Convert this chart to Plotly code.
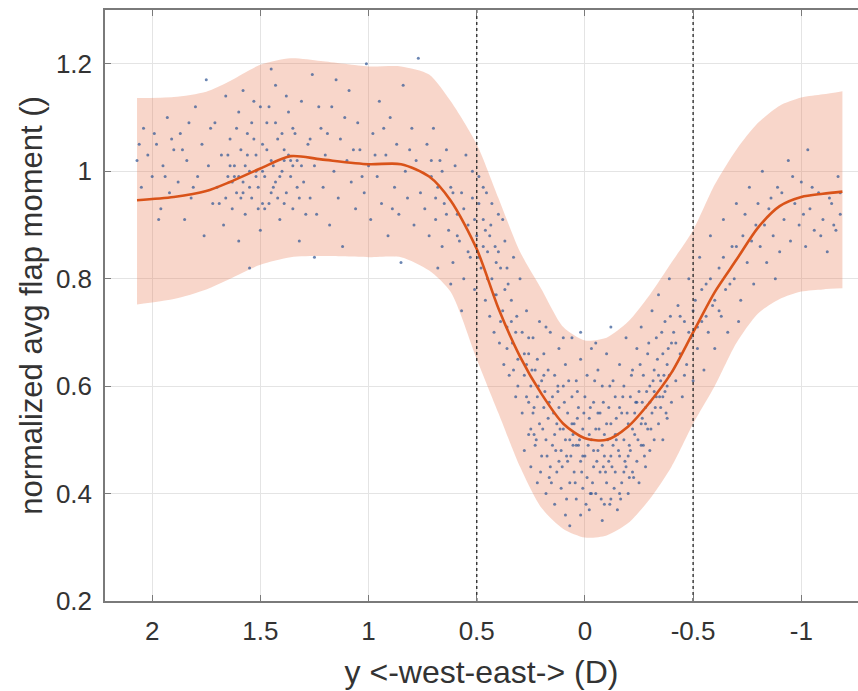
import plotly.graph_objects as go

# ---- curve / band data (x in D, reversed axis) ----
band_x = [2.07, 1.9, 1.75, 1.64, 1.5, 1.36, 1.22, 1.0, 0.85, 0.72, 0.62, 0.5, 0.4, 0.3, 0.2,
          0.1, 0.0, -0.1, -0.2, -0.3, -0.4, -0.5, -0.6, -0.7, -0.8, -0.9, -1.0, -1.1, -1.19]
mean_y = [0.946, 0.952, 0.963, 0.98, 1.005, 1.028, 1.022, 1.013, 1.013, 0.99, 0.945, 0.855, 0.745,
          0.655, 0.585, 0.53, 0.503, 0.50, 0.525, 0.57, 0.625, 0.70, 0.775, 0.835, 0.895, 0.935,
          0.952, 0.958, 0.962]
upper_y = [1.136, 1.138, 1.148, 1.168, 1.198, 1.21, 1.205, 1.195, 1.195, 1.18, 1.13, 1.05, 0.95,
           0.85, 0.78, 0.71, 0.685, 0.69, 0.72, 0.77, 0.83, 0.89, 0.975, 1.04, 1.09, 1.122,
           1.137, 1.143, 1.149]
lower_y = [0.752, 0.762, 0.78, 0.80, 0.826, 0.84, 0.842, 0.84, 0.84, 0.815, 0.775, 0.65, 0.55,
           0.45, 0.373, 0.334, 0.318, 0.322, 0.345, 0.39, 0.45, 0.53, 0.60, 0.68, 0.735, 0.762,
           0.776, 0.780, 0.782]

# ---- scatter samples ----
west_x = [2.07, 2.05, 2.04, 2.02, 2.0, 1.98, 1.96, 1.95, 1.93, 1.92, 1.90, 1.88, 1.87, 1.85, 1.84,
          1.82, 1.80, 1.79, 1.77, 1.76, 1.74, 1.72, 1.71, 1.70, 1.68, 1.67, 1.66, 1.65, 1.64, 1.63,
          1.62, 1.61, 1.60, 1.59, 1.58, 1.57, 1.56, 1.55, 1.54, 1.53, 1.52, 1.51, 1.50, 1.49, 1.48,
          1.47, 1.46, 1.45, 1.44, 1.43, 1.42, 1.41, 1.40, 1.39, 1.38, 1.37, 1.36, 1.35, 1.34, 1.33,
          1.32, 1.31, 1.30, 1.28, 1.27, 1.26, 1.25, 1.24, 1.22, 1.21, 1.20, 1.18, 1.17, 1.16, 1.14,
          1.13, 1.12, 1.10, 1.09, 1.08, 1.06, 1.05, 1.04, 1.02, 1.01, 1.00, 0.99, 0.98, 0.96, 0.95,
          0.94, 0.92, 0.91, 0.90, 0.88, 0.87, 0.86, 0.84, 0.83, 0.82, 0.80, 0.79, 0.78, 0.77, 0.76,
          1.55, 1.75, 1.25, 0.85, 1.60, 1.45, 1.15, 1.58, 1.52, 1.49, 1.43, 1.39, 1.62, 1.66, 1.35]
west_y = [1.02, 0.97, 1.08, 1.03, 0.99, 1.05, 0.93, 1.01, 1.10, 0.96, 1.04, 0.98, 1.07, 0.91, 1.02,
          0.95, 1.12, 0.99, 1.05, 0.88, 1.01, 0.94, 1.09, 0.97, 1.03, 0.90, 1.14, 0.99, 1.06, 0.93,
          1.01, 0.96, 1.11, 1.04, 0.98, 0.92, 1.07, 1.00, 0.95, 1.13, 1.03, 0.97, 0.89, 1.05, 0.99,
          1.09, 0.94, 1.02, 0.97, 1.16, 1.06, 0.91, 1.00, 1.04, 0.96, 1.11, 0.99, 0.93, 1.07, 1.02,
          0.87, 1.13, 0.98, 1.05, 0.95, 1.18, 1.01, 0.92, 1.08, 0.97, 1.03, 0.90, 1.12, 1.00, 0.95,
          1.06, 0.86, 1.02, 1.15, 0.98, 0.93, 1.09, 1.04, 0.96, 1.20, 1.01, 0.91, 1.07, 0.99, 1.13,
          0.94, 1.03, 0.88, 1.10, 0.97, 1.05, 0.92, 1.16, 1.00, 0.95, 1.08, 0.90, 1.02, 1.21, 0.96,
          0.82, 1.17, 0.84, 0.83, 0.87, 1.19, 1.17, 0.96, 1.00, 0.94, 0.98, 1.02, 0.99, 0.95, 1.01]
west_extra = [(1.65, 1.03), (1.63, 0.98), (1.61, 1.08), (1.59, 0.95), (1.57, 1.01), (1.55, 0.97),
              (1.53, 1.06), (1.51, 0.93), (1.49, 1.00), (1.47, 1.04), (1.45, 0.96), (1.43, 1.09),
              (1.41, 0.99), (1.39, 0.94), (1.37, 1.03), (1.35, 1.08), (1.33, 0.97), (1.31, 1.01),
              (1.29, 0.92), (1.27, 1.06), (1.60, 0.99), (1.56, 1.03), (1.52, 0.99), (1.48, 0.93),
              (1.44, 1.01), (1.40, 1.07), (1.36, 1.02), (1.32, 0.95), (1.64, 1.01), (1.54, 1.09),
              (1.46, 1.12), (1.42, 0.95), (1.58, 1.15), (1.50, 1.12), (1.38, 1.14), (1.23, 1.12),
              (1.19, 1.07), (1.11, 1.10), (1.07, 1.04), (1.03, 0.99), (0.97, 1.03), (0.93, 1.08),
              (0.89, 0.93), (0.81, 1.04), (1.99, 1.07), (1.94, 0.99), (1.86, 1.04), (1.81, 0.97),
              (1.73, 1.08), (1.69, 0.94), (2.06, 1.05), (1.97, 0.91), (1.91, 1.06), (1.83, 1.09)]

drop_x = [0.74, 0.73, 0.72, 0.71, 0.70, 0.69, 0.68, 0.67, 0.66, 0.65, 0.64, 0.63, 0.62, 0.61, 0.60,
          0.59, 0.58, 0.57, 0.56, 0.55, 0.54, 0.53, 0.52, 0.51, 0.50, 0.49, 0.48, 0.47, 0.46, 0.455,
          0.45, 0.44, 0.435, 0.43, 0.42, 0.415, 0.41, 0.40, 0.395, 0.39, 0.38, 0.375, 0.37, 0.36,
          0.355, 0.35, 0.34, 0.335, 0.33, 0.32, 0.315, 0.31, 0.30, 0.52, 0.47, 0.62, 0.57, 0.43,
          0.38, 0.68]
drop_y = [0.93, 1.05, 0.88, 0.99, 1.08, 0.91, 0.97, 1.02, 0.86, 0.94, 1.04, 0.89, 0.97, 0.83, 1.01,
          0.92, 0.87, 0.96, 0.80, 1.03, 0.90, 0.84, 0.95, 0.78, 0.88, 0.99, 0.82, 0.91, 0.76, 0.96,
          0.85, 0.73, 0.90, 0.80, 0.70, 0.86, 0.77, 0.92, 0.68, 0.82, 0.74, 0.64, 0.87, 0.71, 0.79,
          0.62, 0.76, 0.68, 0.84, 0.58, 0.73, 0.65, 0.80, 1.00, 0.97, 0.79, 0.74, 0.94, 0.91, 0.82]
drop_extra = [(0.71, 1.02), (0.69, 0.95), (0.66, 1.00), (0.64, 0.92), (0.61, 0.96), (0.59, 0.88),
              (0.56, 0.93), (0.54, 0.85), (0.51, 0.91), (0.49, 0.84), (0.47, 0.86), (0.45, 0.80),
              (0.44, 0.88), (0.42, 0.77), (0.41, 0.83), (0.39, 0.72), (0.37, 0.78), (0.36, 0.67),
              (0.34, 0.72), (0.33, 0.63), (0.32, 0.70), (0.31, 0.60), (0.49, 0.94), (0.46, 0.89),
              (0.40, 0.85), (0.36, 0.82)]

valley_x = [0.29, 0.29, 0.28, 0.28, 0.27, 0.27, 0.26, 0.26, 0.25, 0.25, 0.24, 0.24, 0.23, 0.23, 0.22,
            0.22, 0.21, 0.21, 0.20, 0.20, 0.19, 0.19, 0.18, 0.18, 0.17, 0.17, 0.16, 0.16, 0.15, 0.15,
            0.14, 0.14, 0.13, 0.13, 0.12, 0.12, 0.11, 0.11, 0.10, 0.10, 0.09, 0.09, 0.08, 0.08, 0.07,
            0.07, 0.06, 0.06, 0.05, 0.05, 0.04, 0.04, 0.03, 0.03, 0.02, 0.02, 0.01, 0.01, 0.00, 0.00,
            -0.01, -0.01, -0.02, -0.02, -0.03, -0.03, -0.04, -0.04, -0.05, -0.05, -0.06, -0.06,
            -0.07, -0.07, -0.08, -0.08, -0.09, -0.09, -0.10, -0.10, -0.11, -0.11, -0.12, -0.12,
            -0.13, -0.13, -0.14, -0.14, -0.15, -0.15, -0.16, -0.16, -0.17, -0.17, -0.18, -0.18,
            -0.19, -0.19, -0.20, -0.20, -0.21, -0.21, -0.22, -0.22, -0.23, -0.23, -0.24, -0.24,
            -0.25, -0.25, -0.26, -0.26, -0.27, -0.27, -0.28, -0.28, -0.29, -0.29, -0.30, -0.30,
            -0.31, -0.31, -0.32, -0.32, -0.33, -0.33, -0.34, -0.34, -0.35, -0.35, -0.36, -0.36,
            -0.37, -0.37, -0.38, -0.38, -0.39, -0.39, -0.40, -0.40, 0.18, 0.10, 0.02, -0.05, -0.12,
            0.235, 0.165, 0.085, 0.035, -0.025, -0.085, -0.145, -0.205, -0.265, 0.125, 0.055, -0.115]
valley_y = [0.70, 0.55, 0.62, 0.48, 0.74, 0.58, 0.66, 0.51, 0.60, 0.45, 0.69, 0.55, 0.63, 0.49, 0.58,
            0.42, 0.72, 0.53, 0.61, 0.47, 0.66, 0.56, 0.50, 0.40, 0.63, 0.54, 0.45, 0.70, 0.58, 0.49,
            0.38, 0.62, 0.53, 0.44, 0.67, 0.56, 0.48, 0.41, 0.60, 0.52, 0.36, 0.64, 0.55, 0.46, 0.50,
            0.42, 0.69, 0.58, 0.53, 0.44, 0.61, 0.39, 0.49, 0.56, 0.46, 0.65, 0.52, 0.41, 0.58, 0.47,
            0.62, 0.43, 0.54, 0.37, 0.50, 0.67, 0.45, 0.57, 0.40, 0.52, 0.63, 0.48, 0.44, 0.55, 0.35,
            0.60, 0.47, 0.51, 0.42, 0.66, 0.56, 0.46, 0.39, 0.53, 0.61, 0.49, 0.44, 0.58, 0.37, 0.51,
            0.64, 0.47, 0.55, 0.42, 0.60, 0.50, 0.45, 0.69, 0.53, 0.40, 0.58, 0.48, 0.63, 0.44, 0.55,
            0.51, 0.67, 0.46, 0.59, 0.42, 0.53, 0.71, 0.49, 0.62, 0.56, 0.45, 0.66, 0.52, 0.60, 0.48,
            0.74, 0.55, 0.63, 0.50, 0.58, 0.69, 0.53, 0.77, 0.61, 0.56, 0.66, 0.50, 0.72, 0.59, 0.64,
            0.54, 0.80, 0.62, 0.68, 0.57, 0.71, 0.69, 0.70, 0.68, 0.71, 0.51, 0.43, 0.47, 0.54, 0.40,
            0.45, 0.50, 0.43, 0.57, 0.59, 0.49, 0.38]
valley_extra = [(0.27, 0.64), (0.26, 0.57), (0.25, 0.52), (0.245, 0.63), (0.235, 0.56), (0.225, 0.50),
                (0.215, 0.60), (0.205, 0.44), (0.195, 0.52), (0.185, 0.59), (0.175, 0.47), (0.165, 0.57),
                (0.155, 0.42), (0.145, 0.55), (0.135, 0.48), (0.125, 0.60), (0.115, 0.52), (0.105, 0.45),
                (0.095, 0.57), (0.085, 0.39), (0.075, 0.61), (0.065, 0.47), (0.055, 0.51), (0.045, 0.42),
                (0.035, 0.59), (0.025, 0.50), (0.015, 0.44), (0.005, 0.55), (-0.005, 0.38), (-0.015, 0.49),
                (-0.025, 0.56), (-0.035, 0.42), (-0.045, 0.61), (-0.055, 0.46), (-0.065, 0.52),
                (-0.075, 0.39), (-0.085, 0.57), (-0.095, 0.44), (-0.105, 0.50), (-0.115, 0.60),
                (-0.125, 0.45), (-0.135, 0.41), (-0.145, 0.54), (-0.155, 0.48), (-0.165, 0.39),
                (-0.175, 0.58), (-0.185, 0.46), (-0.195, 0.55), (-0.205, 0.49), (-0.215, 0.62),
                (-0.225, 0.43), (-0.235, 0.57), (-0.245, 0.50), (-0.255, 0.64), (-0.265, 0.54),
                (-0.275, 0.47), (-0.285, 0.59), (-0.295, 0.68), (-0.305, 0.52), (-0.315, 0.61),
                (-0.325, 0.56), (-0.335, 0.65), (-0.345, 0.58), (-0.355, 0.70), (-0.365, 0.62),
                (-0.375, 0.55), (-0.385, 0.67), (-0.395, 0.73), (0.28, 0.66), (0.26, 0.69), (0.22, 0.65),
                (0.19, 0.62), (0.14, 0.51), (0.12, 0.46), (0.09, 0.50), (0.06, 0.53), (0.04, 0.49),
                (0.01, 0.47), (-0.02, 0.51), (-0.04, 0.48), (-0.06, 0.55), (-0.08, 0.49), (-0.10, 0.53),
                (-0.12, 0.47), (-0.14, 0.51), (-0.16, 0.56), (-0.18, 0.44), (-0.20, 0.47), (-0.22, 0.52),
                (-0.24, 0.57), (-0.26, 0.49), (-0.28, 0.53), (-0.30, 0.57), (-0.32, 0.59), (-0.34, 0.62),
                (-0.36, 0.58), (-0.38, 0.60), (0.07, 0.34), (0.02, 0.36), (-0.03, 0.40), (-0.09, 0.38),
                (-0.16, 0.40)]

east_x = [-0.41, -0.42, -0.43, -0.44, -0.45, -0.46, -0.47, -0.48, -0.49, -0.50, -0.51, -0.52, -0.53,
          -0.54, -0.55, -0.56, -0.57, -0.58, -0.59, -0.60, -0.62, -0.63, -0.64, -0.65, -0.66, -0.68,
          -0.69, -0.70, -0.72, -0.73, -0.75, -0.76, -0.78, -0.79, -0.81, -0.82, -0.84, -0.85, -0.87,
          -0.89, -0.90, -0.92, -0.94, -0.95, -0.97, -0.99, -1.00, -1.02, -1.04, -1.06, -1.08, -1.10,
          -1.12, -1.14, -1.16, -1.18, -1.17, -1.03, -0.88, -0.71]
east_y = [0.70, 0.61, 0.75, 0.66, 0.58, 0.72, 0.64, 0.80, 0.69, 0.61, 0.76, 0.67, 0.84, 0.72, 0.63,
          0.79, 0.70, 0.88, 0.75, 0.67, 0.82, 0.73, 0.91, 0.78, 0.70, 0.86, 0.80, 0.94, 0.76, 0.88,
          0.83, 0.97, 0.79, 0.90, 0.86, 1.00, 0.83, 0.93, 0.88, 0.97, 0.85, 0.91, 1.02, 0.87, 0.94,
          0.90, 0.98, 0.86, 0.93, 0.89, 0.96, 0.91, 0.85, 0.94, 0.89, 0.92, 0.99, 1.04, 0.80, 0.72]
east_extra = [(-0.42, 0.68), (-0.44, 0.73), (-0.46, 0.62), (-0.48, 0.70), (-0.50, 0.74), (-0.52, 0.71),
              (-0.54, 0.78), (-0.56, 0.73), (-0.58, 0.80), (-0.60, 0.76), (-0.62, 0.74), (-0.64, 0.84),
              (-0.67, 0.79), (-0.70, 0.86), (-0.74, 0.92), (-0.77, 0.87), (-0.80, 0.94), (-0.83, 0.90),
              (-0.86, 0.95), (-0.91, 0.96), (-0.96, 0.99), (-1.01, 0.92), (-1.05, 0.97), (-1.09, 0.88),
              (-1.13, 0.95), (-1.15, 0.90), (-1.18, 0.96)]

x_ticks = [2, 1.5, 1, 0.5, 0, -0.5, -1]
x_tick_text = ["2", "1.5", "1", "0.5", "0", "-0.5", "-1"]
y_ticks = [0.2, 0.4, 0.6, 0.8, 1.0, 1.2]
y_tick_text = ["0.2", "0.4", "0.6", "0.8", "1", "1.2"]
boundary_x = [0.5, -0.5]

ORANGE = "#D95319"
FONT = "Liberation Sans, Arial, sans-serif"
TXT = "#333333"

extra = west_extra + drop_extra + valley_extra + east_extra
sx = west_x + drop_x + valley_x + east_x + [p[0] for p in extra]
sy = west_y + drop_y + valley_y + east_y + [p[1] for p in extra]

fig = go.Figure()

# uncertainty band: lower edge, then upper edge filled down to it
fig.add_trace(go.Scatter(
    x=band_x, y=lower_y, mode="lines",
    line=dict(width=0, shape="spline", smoothing=0.7, color="rgba(0,0,0,0)"),
    hoverinfo="skip", showlegend=False))
fig.add_trace(go.Scatter(
    x=band_x, y=upper_y, mode="lines", fill="tonexty",
    fillcolor="rgba(233,120,80,0.30)",
    line=dict(width=0, shape="spline", smoothing=0.7, color="rgba(0,0,0,0)"),
    hoverinfo="skip", showlegend=False))

# samples
fig.add_trace(go.Scatter(
    x=sx, y=sy, mode="markers",
    marker=dict(size=3, color="rgba(50,88,150,0.72)", line=dict(width=0)),
    showlegend=False))

# mean curve
fig.add_trace(go.Scatter(
    x=band_x, y=mean_y, mode="lines",
    line=dict(color=ORANGE, width=2.6, shape="spline", smoothing=0.8),
    showlegend=False))

# boundary dotted lines
for bx in boundary_x:
    fig.add_trace(go.Scatter(
        x=[bx, bx], y=[0.2, 1.3], mode="lines",
        line=dict(color="#333333", width=1.4, dash="dot"),
        showlegend=False, hoverinfo="skip"))

fig.update_layout(
    width=858, height=691,
    margin=dict(l=105, r=0, t=10, b=90),
    paper_bgcolor="white", plot_bgcolor="white",
    font=dict(family=FONT, color=TXT),
    showlegend=False,
)

fig.update_xaxes(
    range=[2.218, -1.262], tickmode="array", tickvals=x_ticks, ticktext=x_tick_text,
    tickfont=dict(size=26, color=TXT),
    showgrid=True, gridcolor="#e4e4e4", gridwidth=1,
    zeroline=False, showline=True, linecolor="#7a7a7a", linewidth=1.5, mirror="ticks",
    ticks="inside", ticklen=6, tickcolor="#7a7a7a",
    ticklabelstandoff=6,
    title=dict(text="y <-west-east-> (D)", font=dict(size=32, color=TXT), standoff=16),
)
fig.update_yaxes(
    range=[0.2, 1.3], tickmode="array", tickvals=y_ticks, ticktext=y_tick_text,
    tickfont=dict(size=26, color=TXT),
    showgrid=True, gridcolor="#e4e4e4", gridwidth=1,
    zeroline=False, showline=True, linecolor="#7a7a7a", linewidth=1.5, mirror=False,
    ticks="inside", ticklen=6, tickcolor="#7a7a7a",
    ticklabelstandoff=6,
    title=dict(text="normalized avg flap moment ()", font=dict(size=31, color=TXT), standoff=4),
)

fig.write_html("out.html")
